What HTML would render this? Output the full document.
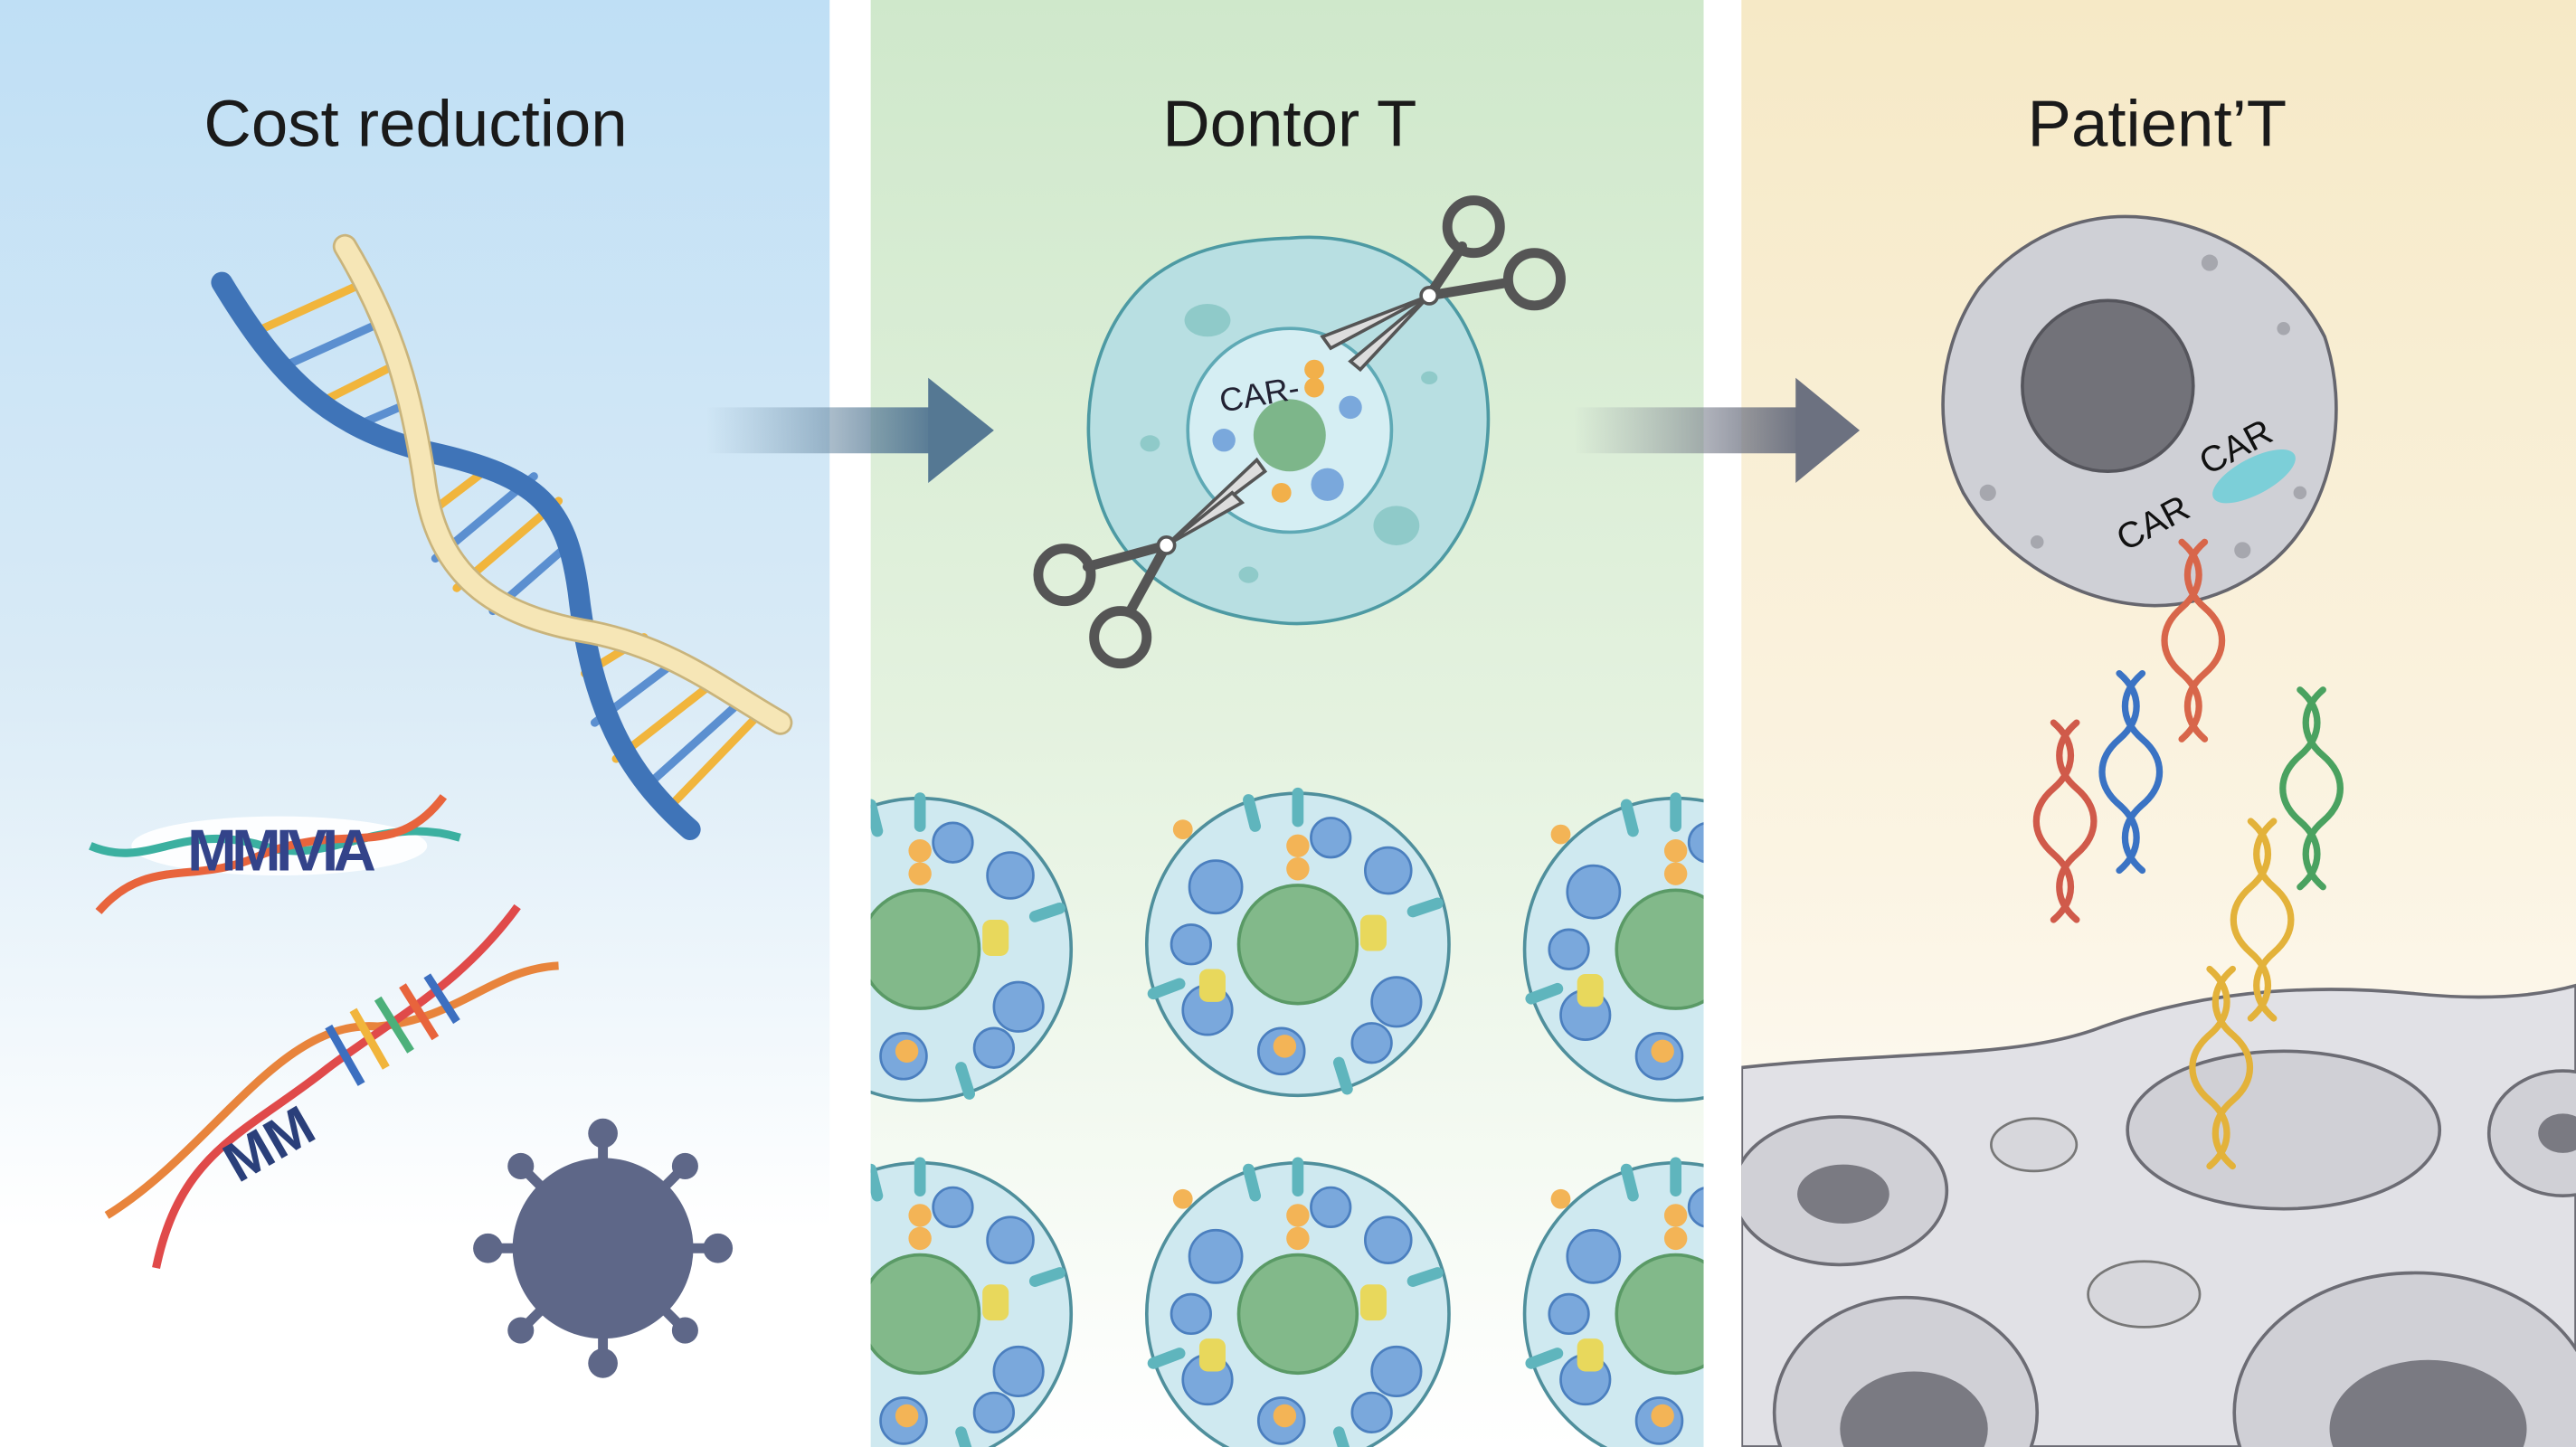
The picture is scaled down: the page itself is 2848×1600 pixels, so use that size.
<!DOCTYPE html>
<html><head><meta charset="utf-8"><style>
html,body{margin:0;padding:0;background:#fff;width:2848px;height:1600px;overflow:hidden;}
svg{display:block}
text{font-family:"Liberation Sans",sans-serif}
</style></head><body>
<svg width="2848" height="1600" viewBox="0 0 1568 881" preserveAspectRatio="none" xmlns="http://www.w3.org/2000/svg">
<defs>
<linearGradient id="g1" x1="0" y1="0" x2="0" y2="1"><stop offset="0" stop-color="#bfdff5"/><stop offset="0.45" stop-color="#d8eaf6"/><stop offset="0.85" stop-color="#ffffff"/></linearGradient>
<linearGradient id="g2" x1="0" y1="0" x2="0" y2="1"><stop offset="0" stop-color="#cfe8cb"/><stop offset="0.5" stop-color="#e4f2df"/><stop offset="1" stop-color="#ffffff"/></linearGradient>
<linearGradient id="g3" x1="0" y1="0" x2="0" y2="1"><stop offset="0" stop-color="#f6e9c6"/><stop offset="0.6" stop-color="#fbf4e3"/><stop offset="1" stop-color="#ffffff"/></linearGradient>
<linearGradient id="a1" x1="0" y1="0" x2="1" y2="0"><stop offset="0" stop-color="#6f8fa8" stop-opacity="0"/><stop offset="1" stop-color="#557893"/></linearGradient>
<linearGradient id="a2" x1="0" y1="0" x2="1" y2="0"><stop offset="0" stop-color="#7b8090" stop-opacity="0"/><stop offset="1" stop-color="#6c7180"/></linearGradient>
<clipPath id="c2"><rect x="530" y="0" width="507" height="881"/></clipPath>
<clipPath id="c3"><rect x="1060" y="0" width="508" height="881"/></clipPath>
<g id="cell">
<circle r="92" fill="#cfe9f0" stroke="#4f8f9c" stroke-width="2"/>
<circle r="36" fill="#82b98a" stroke="#5a9a66" stroke-width="2"/>
<g fill="#7aa8dc" stroke="#4b7fbf" stroke-width="1.5">
<circle cx="-50" cy="-35" r="16"/><circle cx="55" cy="-45" r="14"/><circle cx="60" cy="35" r="15"/><circle cx="-55" cy="40" r="15"/><circle cx="-10" cy="65" r="14"/><circle cx="20" cy="-65" r="12"/><circle cx="-65" cy="0" r="12"/><circle cx="45" cy="60" r="12"/>
</g>
<g fill="#f3b456"><circle cx="0" cy="-60" r="7"/><circle cx="0" cy="-46" r="7"/><circle cx="-8" cy="62" r="7"/><circle cx="-70" cy="-70" r="6"/></g>
<g fill="#e8d85c"><rect x="38" y="-18" width="16" height="22" rx="5"/><rect x="-60" y="15" width="16" height="20" rx="5"/></g>
<g stroke="#5fb5bd" stroke-width="7" stroke-linecap="round"><line x1="0" y1="-92" x2="0" y2="-75"/><line x1="-88" y1="30" x2="-72" y2="24"/><line x1="85" y1="-25" x2="70" y2="-20"/><line x1="30" y1="88" x2="25" y2="72"/><line x1="-30" y1="-88" x2="-26" y2="-72"/></g>
</g>
<g id="mini">
<path d="M0,0 C14,12 14,28 0,40 C-14,52 -14,68 0,80 C14,92 14,108 0,120" fill="none" stroke-width="4" stroke-linecap="round"/>
<path d="M14,0 C0,12 0,28 14,40 C28,52 28,68 14,80 C0,92 0,108 14,120" fill="none" stroke-width="4" stroke-linecap="round"/>
</g>
</defs>

<rect width="1568" height="881" fill="#fff"/>
<rect x="0" y="0" width="505" height="881" fill="url(#g1)"/>
<rect x="530" y="0" width="507" height="881" fill="url(#g2)"/>
<rect x="1060" y="0" width="508" height="881" fill="url(#g3)"/>

<text x="253" y="89" font-size="40" text-anchor="middle" fill="#1a1a1a">Cost reduction</text>
<text x="785" y="89" font-size="40" text-anchor="middle" fill="#1a1a1a">Dontor T</text>
<text x="1313" y="89" font-size="40" text-anchor="middle" fill="#1a1a1a">Patient’T</text>

<rect x="430" y="248" width="140" height="28" fill="url(#a1)"/>
<polygon points="565,230 605,262 565,294" fill="#557893"/>
<rect x="958" y="248" width="140" height="28" fill="url(#a2)"/>
<polygon points="1093,230 1132,262 1093,294" fill="#6c7180"/>

<!-- main DNA -->
<g stroke-width="5" stroke-linecap="round">
<line x1="160" y1="200" x2="222" y2="172" stroke="#f1b53c"/><line x1="175" y1="222" x2="235" y2="195" stroke="#5b8fd0"/>
<line x1="195" y1="245" x2="245" y2="220" stroke="#f1b53c"/><line x1="215" y1="260" x2="250" y2="245" stroke="#5b8fd0"/>
<line x1="300" y1="283" x2="258" y2="315" stroke="#f1b53c"/><line x1="325" y1="290" x2="265" y2="340" stroke="#5b8fd0"/>
<line x1="340" y1="305" x2="278" y2="358" stroke="#f1b53c"/><line x1="348" y1="330" x2="300" y2="372" stroke="#5b8fd0"/>
<line x1="356" y1="410" x2="392" y2="388" stroke="#f1b53c"/><line x1="362" y1="440" x2="415" y2="400" stroke="#5b8fd0"/>
<line x1="375" y1="462" x2="435" y2="415" stroke="#f1b53c"/><line x1="392" y1="480" x2="450" y2="428" stroke="#5b8fd0"/>
<line x1="405" y1="494" x2="462" y2="435" stroke="#f1b53c"/>
</g>
<path d="M135,172 C170,230 200,260 260,275 C330,290 345,310 352,360 C360,430 380,470 420,505" fill="none" stroke="#3f74b8" stroke-width="13" stroke-linecap="round"/>
<path d="M210,150 C240,200 250,240 258,290 C265,350 300,375 360,385 C410,395 440,420 475,440" fill="none" stroke="#c9b47c" stroke-width="15" stroke-linecap="round"/>
<path d="M210,150 C240,200 250,240 258,290 C265,350 300,375 360,385 C410,395 440,420 475,440" fill="none" stroke="#f6e6b6" stroke-width="12" stroke-linecap="round"/>

<!-- small DNA 1 -->
<ellipse cx="170" cy="515" rx="90" ry="18" fill="#fff" opacity="0.9"/>
<path d="M55,515 C90,530 110,500 160,515 C200,528 230,495 280,510" fill="none" stroke="#3bb0a0" stroke-width="5"/>
<path d="M60,555 C90,520 120,540 160,520 C210,500 240,525 270,485" fill="none" stroke="#e8643c" stroke-width="5"/>
<text x="170" y="530" font-size="36" text-anchor="middle" fill="#33438a" font-weight="bold" letter-spacing="-3">MMIVIA</text>

<!-- small DNA 2 -->
<path d="M65,740 C130,700 170,620 230,625 C280,620 300,590 340,588" fill="none" stroke="#e8843c" stroke-width="5"/>
<path d="M95,772 C110,700 150,690 200,650 C240,620 280,600 315,552" fill="none" stroke="#e04a4a" stroke-width="5"/>
<g stroke-width="5"><line x1="200" y1="625" x2="220" y2="660" stroke="#3c6fc0"/><line x1="215" y1="615" x2="235" y2="650" stroke="#f1b53c"/><line x1="230" y1="608" x2="250" y2="640" stroke="#4cb07a"/><line x1="245" y1="600" x2="265" y2="632" stroke="#e8643c"/><line x1="260" y1="594" x2="278" y2="622" stroke="#3c6fc0"/></g>
<text x="140" y="722" font-size="34" fill="#2a3f7a" font-weight="bold" transform="rotate(-30 140 712)">MM</text>

<!-- virus -->
<g fill="#5e6788">
<g stroke="#5e6788" stroke-width="6">
<line x1="367" y1="760" x2="367" y2="690"/><line x1="367" y1="760" x2="367" y2="830"/><line x1="367" y1="760" x2="297" y2="760"/><line x1="367" y1="760" x2="437" y2="760"/>
<line x1="367" y1="760" x2="317" y2="710"/><line x1="367" y1="760" x2="417" y2="710"/><line x1="367" y1="760" x2="317" y2="810"/><line x1="367" y1="760" x2="417" y2="810"/>
</g>
<circle cx="367" cy="760" r="55"/>
<circle cx="367" cy="690" r="9"/><circle cx="367" cy="830" r="9"/><circle cx="297" cy="760" r="9"/><circle cx="437" cy="760" r="9"/>
<circle cx="317" cy="710" r="8"/><circle cx="417" cy="710" r="8"/><circle cx="317" cy="810" r="8"/><circle cx="417" cy="810" r="8"/>
</g>

<g clip-path="url(#c2)">
<use href="#cell" x="560" y="578"/><use href="#cell" x="790" y="575"/><use href="#cell" x="1020" y="578"/>
<use href="#cell" x="560" y="800"/><use href="#cell" x="790" y="800"/><use href="#cell" x="1020" y="800"/>
</g>

<path d="M785,145 C840,140 880,170 895,205 C915,245 905,300 885,330 C860,370 810,385 770,378 C720,372 680,345 668,300 C655,255 665,200 700,170 C725,150 755,146 785,145Z" fill="#b8dfe2" stroke="#4d9aa3" stroke-width="2"/>
<g fill="#8fcac9"><ellipse cx="735" cy="195" rx="14" ry="10"/><ellipse cx="850" cy="320" rx="14" ry="12"/><ellipse cx="700" cy="270" rx="6" ry="5"/><ellipse cx="870" cy="230" rx="5" ry="4"/><ellipse cx="760" cy="350" rx="6" ry="5"/></g>
<circle cx="785" cy="262" r="62" fill="#d5eef3" stroke="#5ea9b5" stroke-width="2"/>
<circle cx="785" cy="265" r="22" fill="#7db68a"/>
<text x="742" y="248" font-size="20" fill="#223" transform="rotate(-10 760 240)">CAR-</text>
<g fill="#f2b04a"><circle cx="800" cy="225" r="6"/><circle cx="800" cy="236" r="6"/><circle cx="780" cy="300" r="6"/></g>
<g fill="#7aa8dc"><circle cx="808" cy="295" r="10"/><circle cx="822" cy="248" r="7"/><circle cx="745" cy="268" r="7"/></g>
<!-- scissors -->
<g stroke="#555" stroke-width="6" fill="none" stroke-linecap="round">
<line x1="870" y1="180" x2="890" y2="150"/><line x1="870" y1="180" x2="918" y2="172"/>
<circle cx="897" cy="138" r="16"/><circle cx="934" cy="170" r="16"/>
<line x1="710" y1="332" x2="662" y2="345"/><line x1="710" y1="332" x2="688" y2="372"/>
<circle cx="648" cy="350" r="16"/><circle cx="682" cy="388" r="16"/>
</g>
<polygon points="870,180 805,205 810,212" fill="#ddd" stroke="#555" stroke-width="2"/>
<polygon points="870,180 828,225 822,220" fill="#ddd" stroke="#555" stroke-width="2"/>
<polygon points="710,332 765,280 770,287" fill="#ddd" stroke="#555" stroke-width="2"/>
<polygon points="710,332 750,300 756,306" fill="#ddd" stroke="#555" stroke-width="2"/>
<circle cx="870" cy="180" r="5" fill="#fff" stroke="#555" stroke-width="2"/>
<circle cx="710" cy="332" r="5" fill="#fff" stroke="#555" stroke-width="2"/>

<g clip-path="url(#c3)">
<path d="M1060,650 C1150,640 1230,645 1280,625 C1350,600 1420,600 1470,605 C1520,610 1550,605 1568,600 L1568,881 L1060,881Z" fill="#e1e1e6" stroke="#6c6c74" stroke-width="2"/>
<ellipse cx="1390" cy="688" rx="95" ry="48" fill="#d0d0d6" stroke="#6c6c74" stroke-width="2"/>
<ellipse cx="1120" cy="725" rx="65" ry="45" fill="#d0d0d6" stroke="#6c6c74" stroke-width="2"/>
<ellipse cx="1122" cy="727" rx="28" ry="18" fill="#7a7a82"/>
<ellipse cx="1560" cy="690" rx="45" ry="38" fill="#d0d0d6" stroke="#6c6c74" stroke-width="2"/>
<ellipse cx="1560" cy="690" rx="15" ry="12" fill="#7a7a82"/>
<ellipse cx="1238" cy="697" rx="26" ry="16" fill="#d7d7dc" stroke="#777" stroke-width="1.5"/>
<ellipse cx="1305" cy="788" rx="34" ry="20" fill="#d7d7dc" stroke="#777" stroke-width="1.5"/>
<ellipse cx="1160" cy="860" rx="80" ry="70" fill="#d0d0d6" stroke="#6c6c74" stroke-width="2"/>
<ellipse cx="1165" cy="870" rx="45" ry="35" fill="#7a7a82"/>
<ellipse cx="1470" cy="860" rx="110" ry="85" fill="#d0d0d6" stroke="#6c6c74" stroke-width="2"/>
<ellipse cx="1478" cy="870" rx="60" ry="42" fill="#7a7a82"/>
</g>
<path d="M1300,132 C1350,135 1395,165 1415,205 C1430,250 1420,300 1395,330 C1370,360 1330,372 1300,368 C1255,363 1215,335 1195,300 C1175,260 1180,210 1205,175 C1230,145 1265,130 1300,132Z" fill="#cfd0d6" stroke="#66666e" stroke-width="2"/>
<g fill="#a6a7ae"><circle cx="1345" cy="160" r="5"/><circle cx="1390" cy="200" r="4"/><circle cx="1210" cy="300" r="5"/><circle cx="1240" cy="330" r="4"/><circle cx="1400" cy="300" r="4"/><circle cx="1365" cy="335" r="5"/></g>
<circle cx="1283" cy="235" r="52" fill="#727279" stroke="#55555c" stroke-width="2"/>
<text x="1285" y="328" font-size="22" fill="#111" transform="rotate(-28 1305 315)">CAR</text>
<text x="1336" y="282" font-size="22" fill="#111" transform="rotate(-28 1355 270)">CAR</text>
<ellipse cx="1372" cy="290" rx="28" ry="11" fill="#7ccfd8" transform="rotate(-28 1372 290)"/>

<use href="#mini" x="1328" y="330" stroke="#d8664a"/>
<use href="#mini" x="1290" y="410" stroke="#3a73c4"/>
<use href="#mini" x="1250" y="440" stroke="#d05a4a"/>
<use href="#mini" x="1400" y="420" stroke="#4aa260"/>
<use href="#mini" x="1370" y="500" stroke="#e3b23a"/>
<use href="#mini" x="1345" y="590" stroke="#e3b23a"/>
</svg>
</body></html>
